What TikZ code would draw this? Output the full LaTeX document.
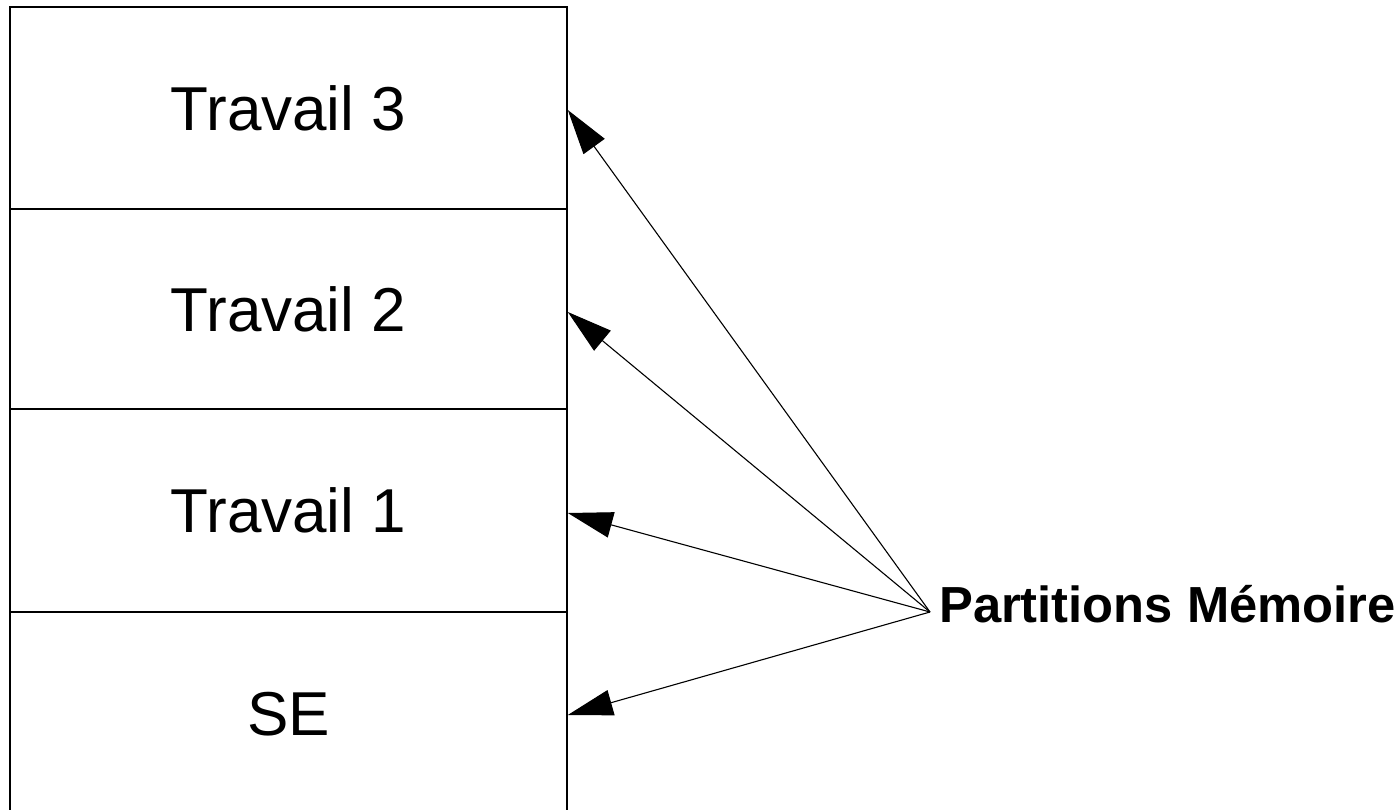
\documentclass[tikz,border=0pt]{standalone}
\usepackage{fontspec}
\setmainfont{Liberation Sans}
\usetikzlibrary{arrows.meta}
\begin{document}
\begin{tikzpicture}[x=1pt,y=-1pt,
  cell/.style={draw=black, line width=1.6pt, minimum width=557pt, inner sep=0pt,
    font=\fontsize{62}{70}\selectfont},
  link/.style={line width=1.1pt, -{Triangle[length=45pt,width=26pt]}},
  label/.style={font=\fontsize{50.7}{58}\selectfont\bfseries, inner sep=0pt, anchor=base west}]
\useasboundingbox (0,0) rectangle (1399,810);
\fill[white] (0,0) rectangle (1399,810);
\node[cell, minimum height=202pt] (t3) at (288.5,108) {Travail 3};
\node[cell, minimum height=200pt] (t2) at (288.5,309) {Travail 2};
\node[cell, minimum height=203pt] (t1) at (288.5,510.5) {Travail 1};
\node[cell, minimum height=204pt] (se) at (288.5,714) {SE};
\coordinate (pm) at (930,612);
\node[label] (pmtext) at (939,622) {Partitions Mémoire};
\draw[link] (pm) -- ([yshift=-2pt]t3.east);
\draw[link] (pm) -- ([yshift=-3pt]t2.east);
\draw[link] (pm) -- ([yshift=-2.5pt]t1.east);
\draw[link] (pm) -- ([yshift=-1pt]se.east);
\end{tikzpicture}
\end{document}
